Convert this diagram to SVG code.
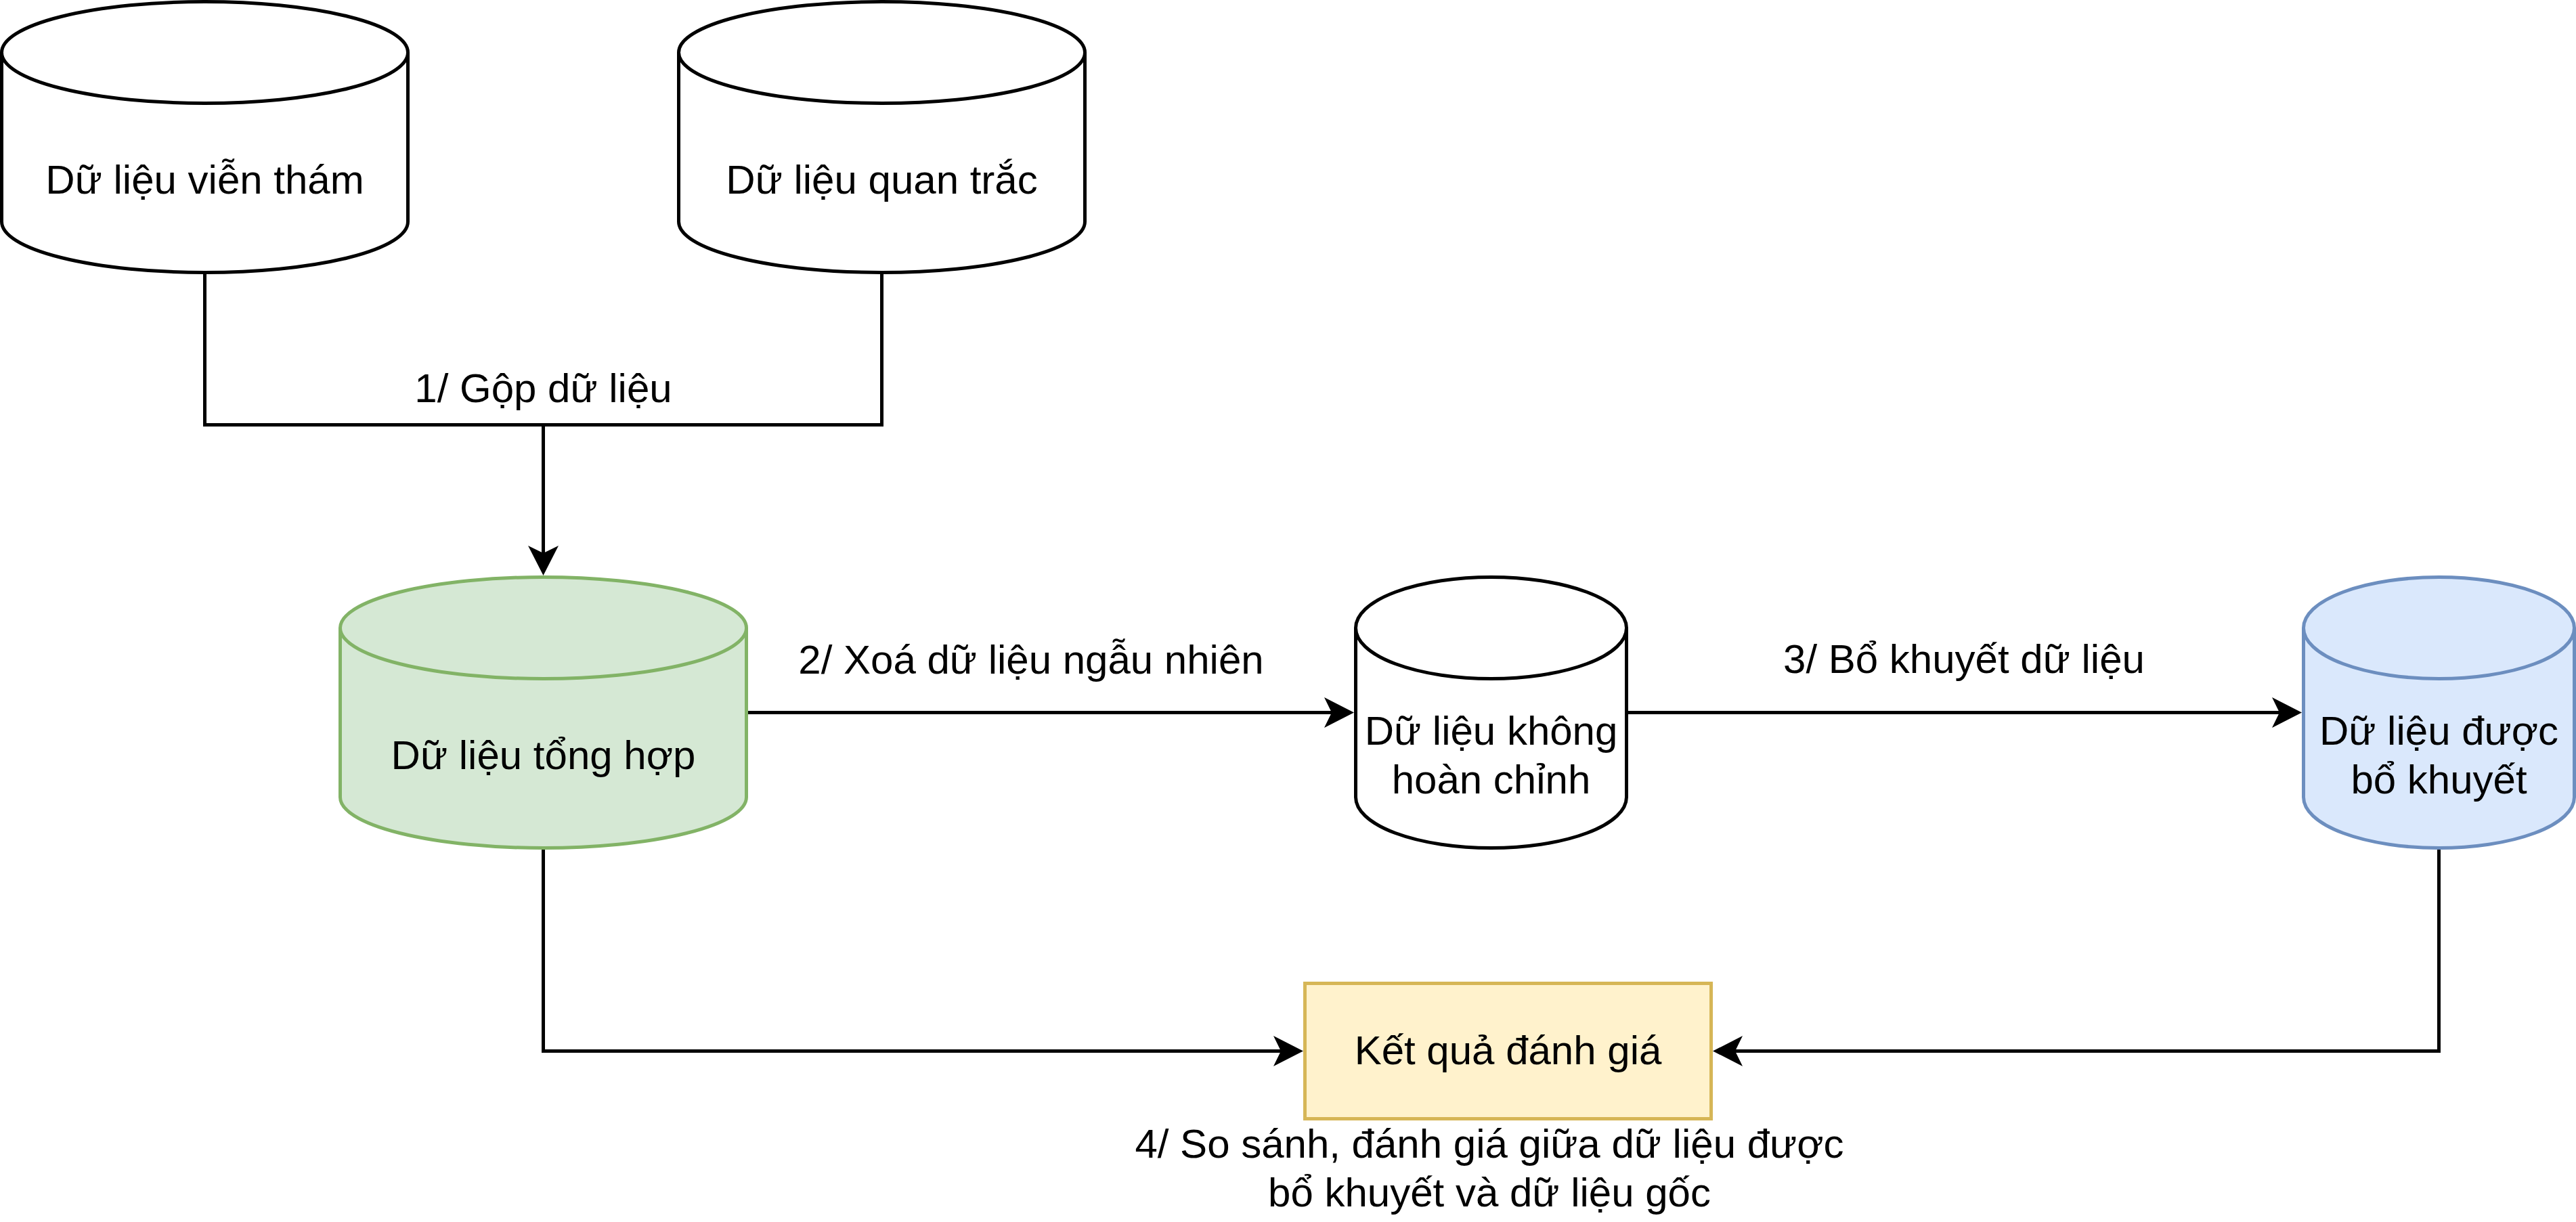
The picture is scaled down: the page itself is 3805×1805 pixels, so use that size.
<svg xmlns="http://www.w3.org/2000/svg" width="3805" height="1805" viewBox="0 0 3805 1805">
  <style>
    text { font-family: "Liberation Sans", Arial, Helvetica, sans-serif; font-size: 60px; fill: #000000; text-anchor: middle; }
    .plain { fill: #ffffff; stroke: #000000; stroke-width: 5; }
    .green { fill: #d5e8d4; stroke: #82b366; stroke-width: 5; }
    .blue { fill: #dae8fc; stroke: #6c8ebf; stroke-width: 5; }
    .yellow { fill: #fff2cc; stroke: #d6b656; stroke-width: 5; }
    .rim { fill: none; }
    .edge { fill: none; stroke: #000000; stroke-width: 5; }
    .arrow { marker-end: url(#classic); }
  </style>
  <defs>
    <marker id="classic" markerUnits="userSpaceOnUse" viewBox="-12 -24 46 48" markerWidth="46" markerHeight="48" refX="0" refY="0" orient="auto" overflow="visible">
      <path d="M33,0 L-11,-22.5 L0,0 L-11,22.5 Z" fill="#000000" stroke="none"/>
    </marker>
  </defs>
  <rect x="0" y="0" width="3805" height="1805" fill="#ffffff"/>

  <g id="connectors">
    <path class="edge" d="M302.5,402.5 V627.5 H1302.5 V402.5"/>
    <path class="edge arrow" d="M802.5,627.5 V817"/>
    <path class="edge arrow" d="M1105,1052.5 H1967"/>
    <path class="edge arrow" d="M2405,1052.5 H3367"/>
    <path class="edge arrow" d="M802.5,1255 V1552.5 H1892"/>
    <path class="edge arrow" d="M3602.5,1255 V1552.5 H2563"/>
  </g>

  <g id="node-vien-tham">
    <path class="plain" d="M2.5,77.5 A300,75 0 0 1 302.5,2.5 A300,75 0 0 1 602.5,77.5 L602.5,327.5 A300,75 0 0 1 302.5,402.5 A300,75 0 0 1 2.5,327.5 Z"/>
    <path class="plain rim" d="M2.5,77.5 A300,75 0 0 0 302.5,152.5 A300,75 0 0 0 602.5,77.5"/>
    <text x="302.5" y="286">Dữ liệu viễn thám</text>
  </g>

  <g id="node-quan-trac">
    <path class="plain" d="M1002.5,77.5 A300,75 0 0 1 1302.5,2.5 A300,75 0 0 1 1602.5,77.5 L1602.5,327.5 A300,75 0 0 1 1302.5,402.5 A300,75 0 0 1 1002.5,327.5 Z"/>
    <path class="plain rim" d="M1002.5,77.5 A300,75 0 0 0 1302.5,152.5 A300,75 0 0 0 1602.5,77.5"/>
    <text x="1302.5" y="286">Dữ liệu quan trắc</text>
  </g>

  <g id="node-tong-hop">
    <path class="green" d="M502.5,927.5 A300,75 0 0 1 802.5,852.5 A300,75 0 0 1 1102.5,927.5 L1102.5,1177.5 A300,75 0 0 1 802.5,1252.5 A300,75 0 0 1 502.5,1177.5 Z"/>
    <path class="green rim" d="M502.5,927.5 A300,75 0 0 0 802.5,1002.5 A300,75 0 0 0 1102.5,927.5"/>
    <text x="802.5" y="1136">Dữ liệu tổng hợp</text>
  </g>

  <g id="node-khong-hoan-chinh">
    <path class="plain" d="M2002.5,927.5 A200,75 0 0 1 2202.5,852.5 A200,75 0 0 1 2402.5,927.5 L2402.5,1177.5 A200,75 0 0 1 2202.5,1252.5 A200,75 0 0 1 2002.5,1177.5 Z"/>
    <path class="plain rim" d="M2002.5,927.5 A200,75 0 0 0 2202.5,1002.5 A200,75 0 0 0 2402.5,927.5"/>
    <text x="2202.5" y="1100">Dữ liệu không</text>
    <text x="2202.5" y="1172">hoàn chỉnh</text>
  </g>

  <g id="node-bo-khuyet">
    <path class="blue" d="M3402.5,927.5 A200,75 0 0 1 3602.5,852.5 A200,75 0 0 1 3802.5,927.5 L3802.5,1177.5 A200,75 0 0 1 3602.5,1252.5 A200,75 0 0 1 3402.5,1177.5 Z"/>
    <path class="blue rim" d="M3402.5,927.5 A200,75 0 0 0 3602.5,1002.5 A200,75 0 0 0 3802.5,927.5"/>
    <text x="3602.5" y="1100">Dữ liệu được</text>
    <text x="3602.5" y="1172">bổ khuyết</text>
  </g>

  <g id="node-ket-qua">
    <rect class="yellow" x="1927.5" y="1452.5" width="600" height="200"/>
    <text x="2227.5" y="1572">Kết quả đánh giá</text>
  </g>

  <g id="labels">
    <text x="802.5" y="594">1/ Gộp dữ liệu</text>
    <text x="1523" y="995">2/ Xoá dữ liệu ngẫu nhiên</text>
    <text x="2901" y="994">3/ Bổ khuyết dữ liệu</text>
    <text x="2200" y="1710">4/ So sánh, đánh giá giữa dữ liệu được</text>
    <text x="2200" y="1782">bổ khuyết và dữ liệu gốc</text>
  </g>
</svg>
